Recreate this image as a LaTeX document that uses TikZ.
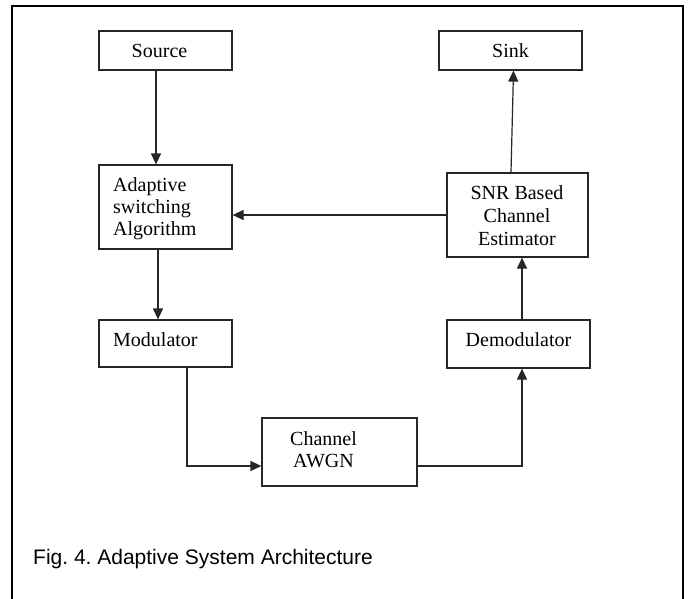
\documentclass[tikz,border=0pt]{standalone}
\usepackage{fontspec}
\setmainfont{Liberation Serif}
\newfontfamily\capfont{Liberation Sans}
\usetikzlibrary{arrows.meta}
\frenchspacing
\begin{document}
\begin{tikzpicture}[x=1pt,y=-1pt,
  blk/.style={draw=black!85,line width=1.2pt,inner sep=0pt},
  txt/.style={inner sep=0pt,font=\fontsize{20}{22}\selectfont},
  arr/.style={draw=black!85,line width=1.2pt,-{Triangle[length=11pt,width=10pt]}}]
\useasboundingbox (0,0) rectangle (688,598);
\draw[line width=2.2pt] (12,605) -- (12,6) -- (683,6) -- (683,605);
% boxes
\node[blk,minimum width=133,minimum height=39] (source) at (165.5,50.5) {};
\node[blk,minimum width=143,minimum height=39] (sink) at (510.5,50.5) {};
\node[blk,minimum width=133,minimum height=84] (adapt) at (165.5,207) {};
\node[blk,minimum width=141,minimum height=84] (snr) at (517.5,215) {};
\node[blk,minimum width=133,minimum height=47] (mod) at (165.5,343.5) {};
\node[blk,minimum width=143,minimum height=48] (demod) at (518.5,344) {};
\node[blk,minimum width=155,minimum height=68] (chan) at (339.5,452) {};
% texts
\node[txt,anchor=base] (sourcet) at (159.5,57) {Source};
\node[txt,anchor=base] (sinkt) at (510.5,57) {Sink};
\node[txt,anchor=west,align=left] (adaptt) at (113,208.5) {Adaptive\\switching\\Algorithm};
\node[txt,anchor=center,align=center,font=\fontsize{20}{23}\selectfont] (snrt) at (517,216) {SNR Based\\Channel\\Estimator};
\node[txt,anchor=base west] (modt) at (113,346) {Modulator};
\node[txt,anchor=base] (demodt) at (518.5,346) {Demodulator};
\node[txt,anchor=center,align=center] (chant) at (323.5,450) {Channel\\AWGN};
\node[inner sep=0pt,anchor=base west,font=\capfont\fontsize{21}{24}\selectfont] (cap) at (33,564) {Fig. 4. Adaptive System Architecture};
% connectors
\draw[arr] ([xshift=-9.5pt]source.south) -- ([xshift=-9.5pt]adapt.north);
\draw[arr] ([xshift=-7.5pt]adapt.south) -- ([xshift=-7.5pt]mod.north);
\draw[arr] ([xshift=21.5pt]mod.south) |- ([yshift=-14pt]chan.west);
\draw[arr] ([yshift=-14pt]chan.east) -| ([xshift=3.5pt]demod.south);
\draw[arr] ([xshift=3.5pt]demod.north) -- ([xshift=3.5pt]demod.north |- snr.south);
\draw[arr] (snr.west) -- (snr.west -| adapt.east);
\draw[arr] ([xshift=-6.5pt]snr.north) -- ([xshift=3pt]sink.south);
\end{tikzpicture}
\end{document}
